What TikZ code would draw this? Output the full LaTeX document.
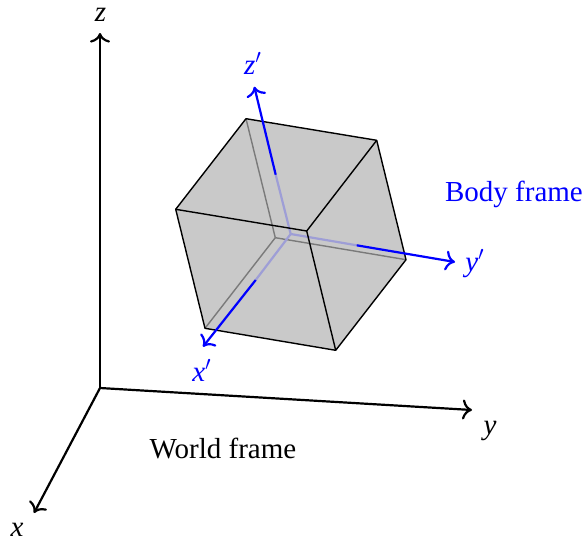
\documentclass[tikz,border=0pt]{standalone}
\usepackage{fontspec}
\setmainfont{Liberation Serif}
\usetikzlibrary{arrows.meta}
\definecolor{cubefill}{RGB}{201,201,201}
\definecolor{hiddenedge}{RGB}{122,122,122}
\definecolor{fadedblue}{RGB}{158,158,214}
\definecolor{axisblue}{RGB}{0,0,255}
\tikzset{
  axistip/.style={-{Computer Modern Rightarrow[length=4.8pt,width=10pt,line width=1.1pt]}},
  worldaxis/.style={line width=1.1pt,black,axistip},
  bodyaxis/.style={line width=1.1pt,axisblue,axistip},
  bodyinner/.style={line width=1.1pt,fadedblue,line join=round},
  cubeedge/.style={line width=.7pt,black,line join=round},
  hiddenline/.style={line width=.7pt,hiddenedge,line join=round},
  lab/.style={inner sep=0pt,anchor=base,font=\fontsize{14.5}{17}\selectfont},
  blab/.style={lab,text=axisblue}
}
\begin{document}
\begin{tikzpicture}[x=0.5pt,y=-0.5pt]
\useasboundingbox (0,0) rectangle (584,541);
% world frame
\coordinate (O) at (100,388);
\coordinate (zt) at (100,33);
\coordinate (yt) at (472,410);
\coordinate (xt) at (34,513);
\draw[worldaxis] (O) -- (zt);
\draw[worldaxis] (O) -- (yt);
\draw[worldaxis] (O) -- (xt);
\node[lab] (zl) at (100.5,21.5) {\textit{z}};
\node[lab] (yl) at (490,434) {\textit{y}};
\node[lab] (xl) at (17,536.5) {\textit{x}};
\node[lab] (wf) at (223,458) {World frame};
% cube
\coordinate (F) at (306.7,231);
\coordinate (TB) at (246,118.7);
\coordinate (TR) at (376.7,140.3);
\coordinate (L) at (175.7,209.3);
\coordinate (BL) at (205,328.3);
\coordinate (BF) at (335.7,350.3);
\coordinate (R) at (406,259.7);
\coordinate (H) at (275.3,237.7);
\fill[cubefill] (TB) -- (TR) -- (R) -- (BF) -- (BL) -- (L) -- cycle;
\draw[hiddenline] (TB) -- (H);
\draw[hiddenline] (R) -- (H);
\draw[hiddenline] (BL) -- (H);
% body frame
\coordinate (B) at (290.7,234);
\coordinate (zin) at (275.7,174.7);
\coordinate (yin) at (356.7,245.3);
\coordinate (xin) at (255.7,280);
\coordinate (zp) at (254.3,86.7);
\coordinate (yp) at (455,262);
\coordinate (xp) at (203,346.7);
\draw[bodyinner] (zin) -- (B) -- (yin);
\draw[bodyinner] (B) -- (xin);
\draw[cubeedge] (TB) -- (TR) -- (R) -- (BF) -- (BL) -- (L) -- cycle;
\draw[cubeedge] (L) -- (F);
\draw[cubeedge] (TR) -- (F);
\draw[cubeedge] (BF) -- (F);
\draw[bodyaxis] (zin) -- (zp);
\draw[bodyaxis] (yin) -- (yp);
\draw[bodyaxis] (xin) -- (xp);
\node[blab] (zpl) at (253,74) {\textit{z}$'$};
\node[blab] (ypl) at (475,271) {\textit{y}$'$};
\node[blab] (xpl) at (202,381) {\textit{x}$'$};
\node[blab] (bf) at (514,201) {Body frame};
\end{tikzpicture}
\end{document}
